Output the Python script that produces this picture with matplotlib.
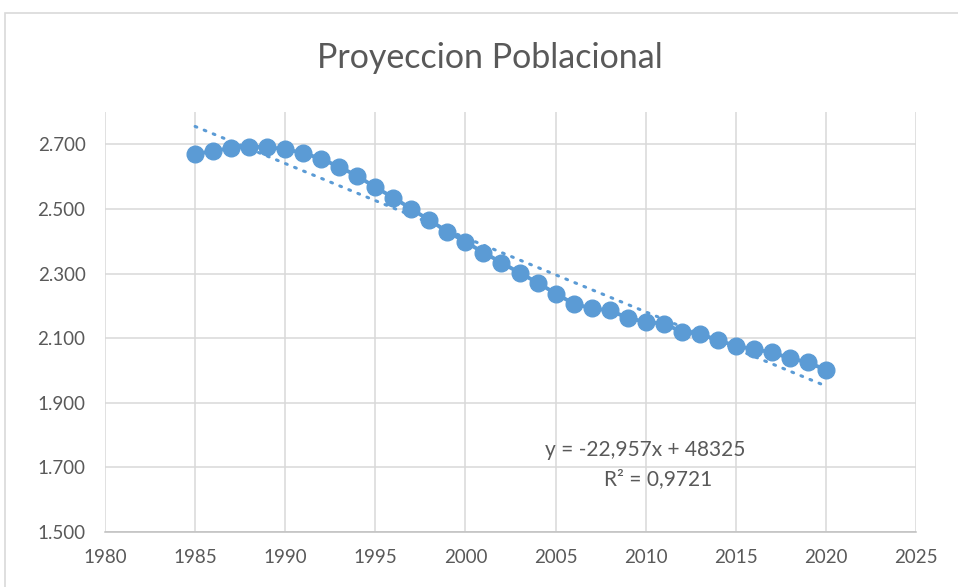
import numpy as np
from matplotlib import pyplot as plt
from matplotlib.patches import Rectangle
from matplotlib.ticker import FuncFormatter

# population projection values
years = list(range(1985, 2021))
population = [2669, 2680, 2688, 2693, 2691, 2685, 2673, 2655, 2630, 2602,
              2567, 2535, 2500, 2465, 2430, 2398, 2365, 2334, 2302, 2272,
              2238, 2207, 2192, 2186, 2163, 2150, 2145, 2120, 2113, 2094,
              2076, 2066, 2056, 2038, 2025, 2002]

# linear trend as printed by the spreadsheet
slope = -22.957
intercept = 48325
r_squared = 0.9721

x_ticks = list(range(1980, 2030, 5))
y_ticks = list(range(1500, 2800, 200))

blue = '#5B9BD5'
grid_gray = '#D9D9D9'
text_gray = '#595959'

plt.rcParams['font.family'] = ['Lato', 'DejaVu Sans']

fig = plt.figure(figsize=(9.58, 5.87), dpi=100)
ax = fig.add_axes([105/958, 1 - 532/587, (916 - 105)/958, (532 - 112)/587])

# outer chart frame
fig.add_artist(Rectangle((5/958, -0.1), 2, (587 - 13)/587 + 0.1,
                         transform=fig.transFigure, fill=False,
                         edgecolor=grid_gray, linewidth=1.2))

# trend line
x_fit = np.array([years[0], years[-1]])
y_fit = slope * x_fit + intercept
ax.plot(x_fit, y_fit, color=blue, linewidth=2.2, linestyle=(0, (0.6, 2.6)),
        dash_capstyle='round', zorder=3)

# data
ax.plot(years, population, color=blue, linewidth=2.8, marker='o',
        markersize=12, zorder=4)

ax.set_xlim(1980, 2025)
ax.set_ylim(1500, 2800)
ax.set_xticks(x_ticks)
ax.set_yticks(y_ticks)
ax.yaxis.set_major_formatter(FuncFormatter(lambda v, p: f'{int(v):,}'.replace(',', '.')))
ax.grid(True, color=grid_gray, linewidth=1.1)
ax.set_axisbelow(True)
for s in ['top', 'right', 'left']:
    ax.spines[s].set_visible(False)
ax.spines['bottom'].set_color('#BFBFBF')
ax.spines['bottom'].set_linewidth(1.1)
ax.tick_params(length=0, labelsize=13.5, labelcolor=text_gray)
ax.tick_params(axis='y', pad=14)
ax.tick_params(axis='x', pad=12)

fig.text(490/958, 1 - 58/587, 'Proyeccion Poblacional', ha='center', va='center',
         fontsize=24.5, color=text_gray)

ax.text(2010, 1753, f'y = {slope:.3f}x + {intercept}'.replace('.', ','),
        ha='center', va='center', fontsize=15, color=text_gray)
ax.text(2010.7, 1664, f'R² = {r_squared}'.replace('.', ','),
        ha='center', va='center', fontsize=15, color=text_gray)

plt.savefig('out.png', dpi=100)
